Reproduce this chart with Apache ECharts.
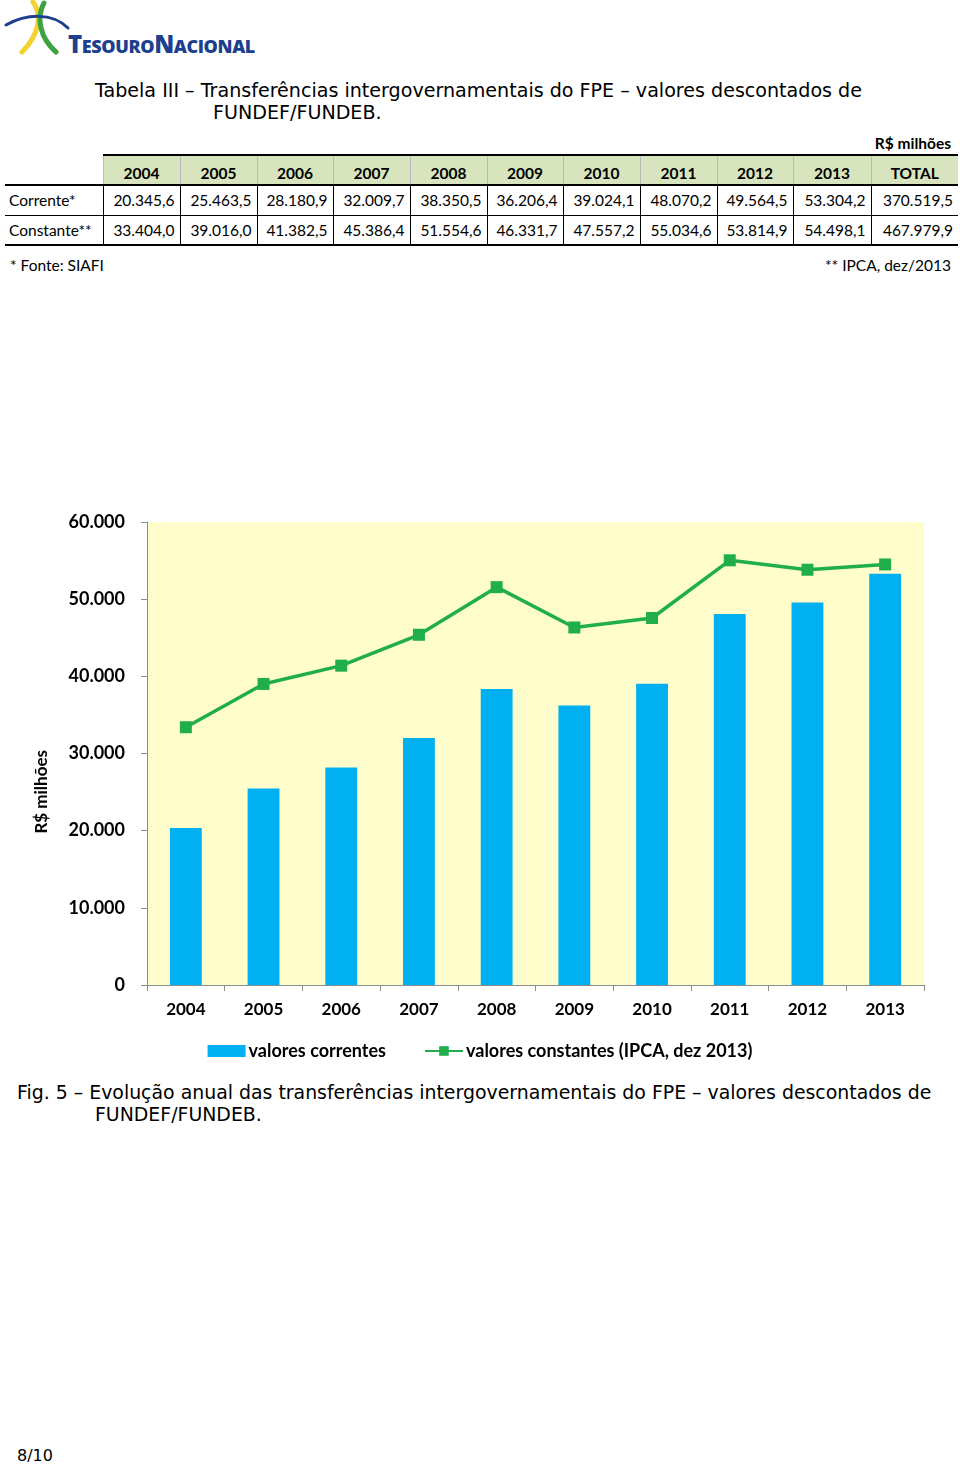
<!DOCTYPE html>
<html>
<head>
<meta charset="utf-8">
<script src="https://cdn.jsdelivr.net/npm/echarts@6/dist/echarts.min.js"></script>
<style>
  html,body{margin:0;padding:0;background:#fff;}
  #page{position:relative;width:960px;height:1467px;overflow:hidden;background:#fff;font-family:Lato,"Open Sans",sans-serif;color:#000;}
  .abs{position:absolute;white-space:nowrap;}
  .verd{font-family:"DejaVu Sans",Verdana,sans-serif;}
  table{border-collapse:collapse;table-layout:fixed;position:absolute;left:5px;top:154px;font-family:Lato,sans-serif;font-size:15.5px;}
  th{background:#D7E4BD;border-top:2px solid #000;border-left:1px solid #bbb;height:30px;padding:0;font-weight:bold;font-size:15.5px;text-align:center;vertical-align:bottom;padding-bottom:2px;box-sizing:border-box;}
  th.blank{background:#fff;border-top:none;border-left:none;}
  td{height:30px;padding:0 5px 0 0;border-left:1px solid #000;text-align:right;box-sizing:border-box;}
  td.lab{border-left:none;text-align:left;padding-left:4px;}
  tr.r1 td{border-top:2px solid #000;}
  tr.r2 td{border-top:1px solid #000;border-bottom:2px solid #000;}
  #chart{position:absolute;left:0;top:480px;width:960px;height:600px;}
</style>
</head>
<body>
<div id="page">
  <!-- logo -->
  <svg class="abs" style="left:0;top:0" width="80" height="56" viewBox="0 0 80 56">
    <path d="M33 2 C 42 14, 40 34, 22 52" stroke="#F2D22E" stroke-width="5" fill="none" stroke-linecap="round"/>
    <path d="M44 3 C 36 18, 40 38, 56 52" stroke="#3DA240" stroke-width="5" fill="none" stroke-linecap="round"/>
    <path d="M6 25 C 26 14, 52 12, 68 28" stroke="#1C3F8E" stroke-width="3" fill="none" stroke-linecap="round"/>
  </svg>
  <div class="abs" style="left:68px;top:27px;font-family:'Open Sans',sans-serif;font-weight:800;color:#1C3F8E;font-size:24px;letter-spacing:-0.4px;">T<span style="font-size:18px">ESOURO</span>N<span style="font-size:18px">ACIONAL</span></div>

  <div class="abs verd" style="left:95px;top:79px;font-size:19.1px;">Tabela III – Transferências intergovernamentais do FPE – valores descontados de</div>
  <div class="abs verd" style="left:213px;top:101px;font-size:19.1px;">FUNDEF/FUNDEB.</div>

  <div class="abs" style="right:9px;top:134px;font-size:15.5px;font-weight:bold;">R$ milhões</div>
  <table id="tbl"></table>
  <div class="abs" style="left:10px;top:256px;font-size:15.5px;">* Fonte: SIAFI</div>
  <div class="abs" style="right:9px;top:256px;font-size:15.5px;">** IPCA, dez/2013</div>

  <div id="chart"></div>

  <div class="abs verd" style="left:17px;top:1081px;font-size:18.9px;">Fig. 5 – Evolução anual das transferências intergovernamentais do FPE – valores descontados de</div>
  <div class="abs verd" style="left:95px;top:1103px;font-size:18.9px;">FUNDEF/FUNDEB.</div>

  <div class="abs verd" style="left:17px;top:1446px;font-size:16px;">8/10</div>
</div>
<script>
const years = ['2004','2005','2006','2007','2008','2009','2010','2011','2012','2013'];
const corrente = [20345.6, 25463.5, 28180.9, 32009.7, 38350.5, 36206.4, 39024.1, 48070.2, 49564.5, 53304.2];
const constante = [33404.0, 39016.0, 41382.5, 45386.4, 51554.6, 46331.7, 47557.2, 55034.6, 53814.9, 54498.1];
const totalCorrente = 370519.5;
const totalConstante = 467979.9;
const rowLabels = ['Corrente*', 'Constante**'];
const yTicks = [0, 10000, 20000, 30000, 40000, 50000, 60000];

function fmt(v, dec) {
  const neg = v < 0; v = Math.abs(v);
  const fixed = v.toFixed(dec);
  let [ip, fp] = fixed.split('.');
  ip = ip.replace(/\B(?=(\d{3})+(?!\d))/g, '.');
  return (neg ? '-' : '') + ip + (fp !== undefined ? ',' + fp : '');
}

// table
const colW = [98, 77, 77, 76, 77, 77, 76, 77, 77, 76, 78, 87];
const tbl = document.getElementById('tbl');
let html = '<colgroup>' + colW.map(w => '<col style="width:' + w + 'px">').join('') + '</colgroup>';
html += '<tr><th class="blank"></th>' + years.map(y => '<th>' + y + '</th>').join('') + '<th>TOTAL</th></tr>';
html += '<tr class="r1"><td class="lab">' + rowLabels[0] + '</td>' + corrente.map(v => '<td>' + fmt(v, 1) + '</td>').join('') + '<td>' + fmt(totalCorrente, 1) + '</td></tr>';
html += '<tr class="r2"><td class="lab">' + rowLabels[1] + '</td>' + constante.map(v => '<td>' + fmt(v, 1) + '</td>').join('') + '<td>' + fmt(totalConstante, 1) + '</td></tr>';
tbl.innerHTML = html;
tbl.style.width = colW.reduce((a, b) => a + b, 0) + 'px';

// chart
const chart = echarts.init(document.getElementById('chart'), null, {renderer: 'canvas'});
const bold = {fontFamily: 'Lato, sans-serif', fontWeight: 'bold', fontSize: 17, color: '#000'};
chart.setOption({
  animation: false,
  grid: {left: 147, right: 36, top: 42, bottom: 95, show: true, backgroundColor: '#FEFDCB', borderWidth: 0},
  legend: {
    top: 557, left: 'center',
    itemGap: 38,
    itemWidth: 38, itemHeight: 12,
    textStyle: Object.assign({}, bold, {fontSize: 18, padding: [0, 0, 0, -2]}),
    data: [
      {name: 'valores correntes', icon: 'rect'},
      {name: 'valores constantes (IPCA, dez 2013)'}
    ]
  },
  xAxis: {
    type: 'category',
    data: years,
    boundaryGap: true,
    axisLine: {lineStyle: {color: '#8c8c8c', width: 1}},
    axisTick: {show: true, length: 6, lineStyle: {color: '#8c8c8c'}},
    axisLabel: Object.assign({}, bold, {margin: 16})
  },
  yAxis: {
    type: 'value',
    min: yTicks[0], max: yTicks[yTicks.length - 1], interval: 10000,
    splitLine: {show: false},
    axisLine: {show: true, lineStyle: {color: '#8c8c8c', width: 1}},
    axisTick: {show: true, length: 6, lineStyle: {color: '#8c8c8c'}},
    axisLabel: Object.assign({}, bold, {fontSize: 18, margin: 22, formatter: v => fmt(v, 0)})
  },
  graphic: [{
    type: 'text', left: 33, top: 270, rotation: Math.PI / 2,
    style: {text: 'R$ milhões', font: 'bold 17px Lato, sans-serif', fill: '#000'}
  }],
  series: [
    {
      name: 'valores correntes', type: 'bar', data: corrente,
      barWidth: '41%', itemStyle: {color: '#00B0F0'}
    },
    {
      name: 'valores constantes (IPCA, dez 2013)', type: 'line', data: constante,
      symbol: 'rect', symbolSize: 12,
      lineStyle: {color: '#1FAE4B', width: 3.5},
      itemStyle: {color: '#1FAE4B'}
    }
  ]
});
</script>
</body>
</html>
